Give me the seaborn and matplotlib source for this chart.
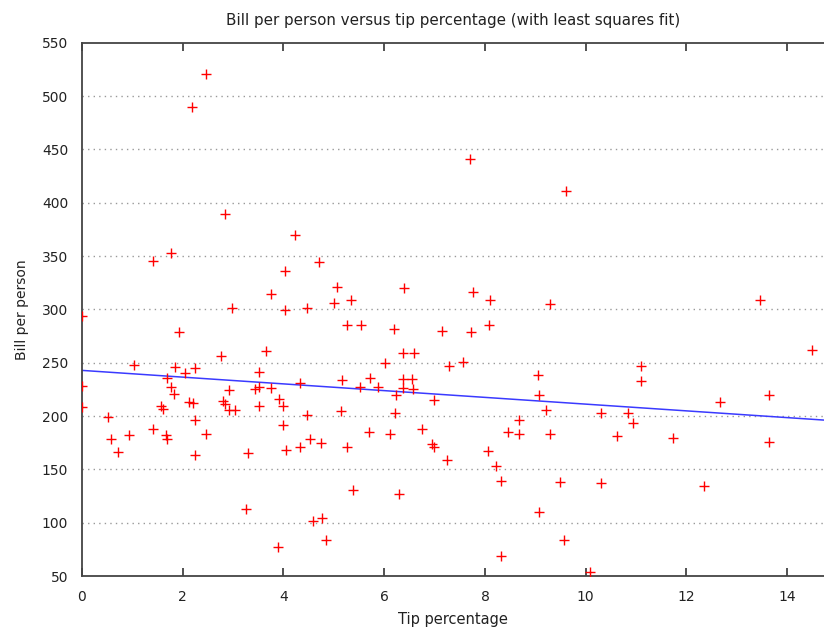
import matplotlib
matplotlib.use("Agg")
import matplotlib.pyplot as plt
import seaborn as sns
import numpy as np
import pandas as pd

tip_pct = [2.46, 2.18, 2.83, 4.22, 1.40, 1.77, 4.02, 4.70, 3.75, 2.98, 4.02, 4.47, 0.00,
           1.93, 2.76, 3.66, 1.03, 1.85, 2.04, 2.24, 1.68, 3.52, 4.33, 1.77, 1.83, 2.91,
           3.43, 3.52, 3.75, 0.00, 0.00, 1.56, 1.61, 2.12, 2.20, 2.79, 2.84, 2.91, 3.04,
           3.52, 3.91, 4.00, 4.47, 0.51, 2.24, 4.00, 1.40, 0.93, 2.46, 0.58, 1.67, 1.69,
           4.52, 4.33, 4.74, 0.72, 3.29, 2.25, 4.04, 3.26, 4.58, 4.77, 3.89,
           7.71, 9.61, 5.06, 5.00, 5.35, 6.39, 7.76, 8.10, 9.29, 5.27, 5.53, 6.20, 7.15,
           7.73, 8.08, 6.38, 6.59, 6.01, 7.28, 7.57, 5.16, 5.72, 6.38, 6.55, 5.51, 5.88,
           6.38, 6.57, 6.23, 6.99, 9.05, 9.08, 9.21, 5.14, 6.22, 8.68, 5.69, 6.12, 5.27,
           6.75, 6.94, 6.99, 7.25, 8.06, 8.45, 8.68, 9.29, 8.21, 8.31, 9.48, 5.38, 6.30,
           9.08, 4.84, 8.31, 9.56,
           13.45, 14.49, 11.10, 11.10, 12.66, 13.64, 10.30, 10.84, 10.94, 10.62, 11.74,
           13.64, 10.30, 12.35, 10.09]
bill_pp = [521, 490, 389, 370, 345, 353, 336, 344, 314, 301, 299, 301, 294,
           279, 256, 261, 248, 246, 240, 245, 236, 241, 231, 227, 221, 224,
           225, 227, 226, 228, 208, 209, 207, 213, 212, 214, 211, 206, 206,
           209, 216, 209, 201, 199, 196, 192, 188, 182, 183, 178, 182, 178,
           178, 171, 175, 166, 165, 163, 168, 113, 102, 104, 77,
           441, 411, 321, 306, 309, 320, 316, 309, 305, 285, 285, 282, 280,
           279, 285, 259, 259, 250, 247, 251, 234, 236, 235, 235, 227, 227,
           226, 225, 220, 215, 238, 220, 206, 205, 203, 196, 185, 183, 171,
           188, 174, 171, 159, 167, 185, 183, 183, 153, 139, 138, 131, 127,
           110, 84, 69, 84,
           309, 262, 247, 233, 213, 220, 203, 203, 193, 181, 179,
           176, 137, 134, 54]

x_ticks = [0, 2, 4, 6, 8, 10, 12, 14]
y_ticks = [50, 100, 150, 200, 250, 300, 350, 400, 450, 500, 550]

df = pd.DataFrame({"tip": tip_pct, "bill": bill_pp})

sns.set_style("white")
plt.rcParams["font.family"] = ["DejaVu Sans"]

fig = plt.figure(figsize=(8.24, 6.37), dpi=100)
ax = fig.add_axes([82 / 824, 61 / 637, 742 / 824, 533.3 / 637])
ax.set_xlim(0, 14.73)
ax.set_ylim(50, 550)

sns.regplot(data=df, x="tip", y="bill", ax=ax, scatter=False, ci=None,
            truncate=False, line_kws=dict(color="#3a3aff", lw=1.1))
sns.scatterplot(data=df, x="tip", y="bill", ax=ax, marker="+", color="#ff0000",
                s=48, linewidth=1.0, zorder=3, clip_on=True)

ax.set_xticks(x_ticks)
ax.set_yticks(y_ticks)
ax.set_xlim(0, 14.73)
ax.set_ylim(50, 550)

for yv in y_ticks[1:-1]:
    ax.axhline(yv, color="#999999", lw=1.0, linestyle=(0, (1, 3)), zorder=1)

ax.tick_params(axis="x", direction="in", length=6, width=1.2, color="#333333",
               top=True, bottom=True, labelsize=10, labelcolor="#222222", pad=10)
ax.tick_params(axis="y", length=0, labelsize=10, labelcolor="#222222", pad=10)

for s in ["left", "bottom", "top"]:
    ax.spines[s].set_color("#444444")
    ax.spines[s].set_linewidth(1.3)
ax.spines["right"].set_visible(False)

ax.set_xlabel("Tip percentage", fontsize=10.5, color="#222222", labelpad=6)
ax.set_ylabel("Bill per person", fontsize=10, color="#222222", labelpad=9)
ax.set_title("Bill per person versus tip percentage (with least squares fit)",
             fontsize=10.9, color="#222222", pad=13)

fig.savefig("out.png", dpi=100)
